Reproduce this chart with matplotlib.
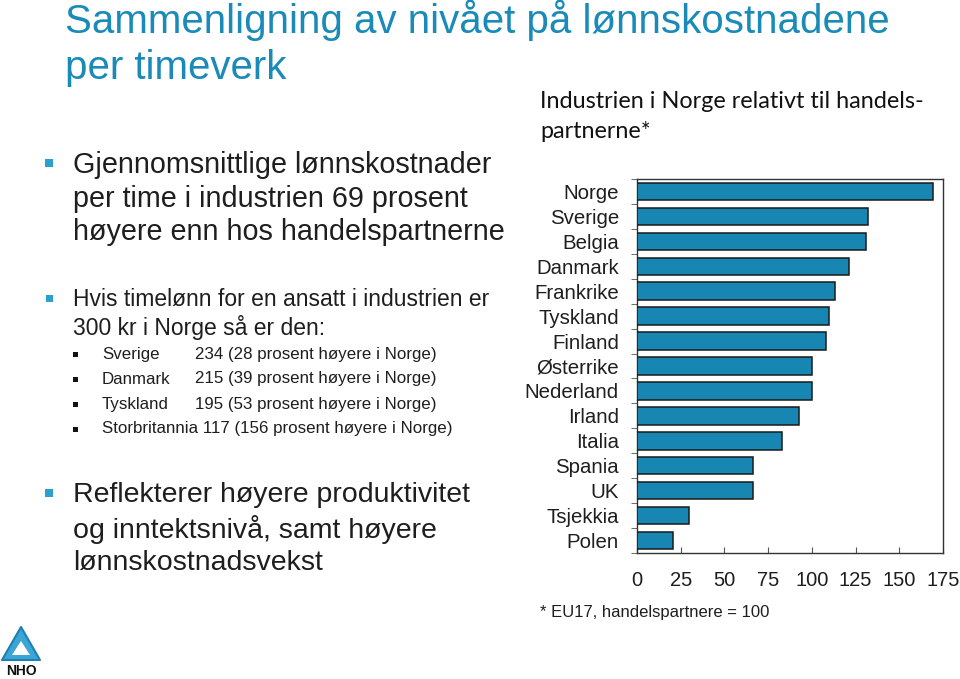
import matplotlib
matplotlib.use("Agg")
import matplotlib.pyplot as plt
from matplotlib.patches import Polygon, Rectangle
from matplotlib.ticker import FixedLocator

# ---- data ----
countries = ["Norge", "Sverige", "Belgia", "Danmark", "Frankrike", "Tyskland",
             "Finland", "Østerrike", "Nederland", "Irland", "Italia", "Spania",
             "UK", "Tsjekkia", "Polen"]
values = [169, 132, 131, 121, 113, 110, 108, 100, 100, 92.5, 83, 66.5, 66.5, 29.5, 20.5]
xticks = [0, 25, 50, 75, 100, 125, 150, 175]

title_lines = ["Sammenligning av nivået på lønnskostnadene", "per timeverk"]
chart_title = ["Industrien i Norge relativt til handels-", "partnerne*"]
footnote = "* EU17, handelspartnere = 100"
bullet1 = ["Gjennomsnittlige lønnskostnader", "per time i industrien 69 prosent",
           "høyere enn hos handelspartnerne"]
bullet2 = ["Hvis timelønn for en ansatt i industrien er", "300 kr i Norge så er den:"]
sub_names = ["Sverige", "Danmark", "Tyskland", "Storbritannia 117 (156 prosent høyere i Norge)"]
sub_vals = ["234 (28 prosent høyere i Norge)", "215 (39 prosent høyere i Norge)",
            "195 (53 prosent høyere i Norge)", ""]
bullet3 = ["Reflekterer høyere produktivitet", "og inntektsnivå, samt høyere",
           "lønnskostnadsvekst"]

W, H = 960, 679
TEAL = "#1a8bb8"
BAR = "#1786b3"
TXT = "#1e1e1e"
FONT = "Liberation Sans"

plt.rcParams['font.family'] = [FONT, 'DejaVu Sans']

fig = plt.figure(figsize=(W / 100, H / 100), dpi=100)


def fx(x):
    return x / W


def fy(y):
    return 1 - y / H


# ---- chart ----
ax = fig.add_axes([fx(637), fy(553), fx(943) - fx(637), fy(179) - fy(553)])
ypos = list(range(len(countries)))
ax.barh(ypos, values, height=0.7, color=BAR, edgecolor="#1a1a1a", linewidth=1.1, zorder=3)
ax.set_ylim(len(countries) - 0.5, -0.5)
ax.set_xlim(0, 175)
ax.set_yticks(ypos)
ax.set_yticklabels(countries, fontsize=14.7, color=TXT)
ax.yaxis.set_minor_locator(FixedLocator([i - 0.5 for i in range(len(countries) + 1)]))
ax.tick_params(axis='y', which='major', length=0, pad=13)
ax.tick_params(axis='y', which='minor', length=4, direction='out', color='#555555')
ax.set_xticks(xticks)
ax.set_xticklabels([str(t) for t in xticks], fontsize=14.5, color=TXT)
ax.tick_params(axis='x', which='major', length=4, direction='in', pad=13, color='#555555')
for s in ax.spines.values():
    s.set_color('#333333')
    s.set_linewidth(1.0)

# ---- texts ----
fig.text(fx(65), fy(20), title_lines[0], fontsize=29, color=TEAL, va='center', ha='left')
fig.text(fx(65), fy(68), title_lines[1], fontsize=29, color=TEAL, va='center', ha='left')

fig.text(fx(540), fy(102), chart_title[0], fontsize=16.8, family=['Lato', 'DejaVu Sans'],
         color='#111111', va='center', ha='left')
fig.text(fx(540), fy(131), chart_title[1], fontsize=16.8, family=['Lato', 'DejaVu Sans'],
         color='#111111', va='center', ha='left')

fig.text(fx(540), fy(612), footnote, fontsize=12, color=TXT, va='center', ha='left')


def bullet(xc, yc, size, color):
    fig.patches.append(Rectangle((fx(xc - size / 2), fy(yc + size / 2)), size / W, size / H,
                                 transform=fig.transFigure, facecolor=color, edgecolor='none'))


# bullet 1
bullet(49, 163, 8, "#2a9fd0")
for i, line in enumerate(bullet1):
    fig.text(fx(73), fy(165 + i * 33.5), line, fontsize=20.7, color=TXT, va='center', ha='left')

# bullet 2
bullet(49, 298, 7, "#2a9fd0")
for i, line in enumerate(bullet2):
    fig.text(fx(73), fy(300 + i * 27), line, fontsize=16.5, color=TXT, va='center', ha='left')

for i, (n, v) in enumerate(zip(sub_names, sub_vals)):
    yy = 354 + i * 25
    bullet(75, yy, 5, "#111111")
    fig.text(fx(102), fy(yy), n, fontsize=12.2, color=TXT, va='center', ha='left')
    if v:
        fig.text(fx(195), fy(yy), v, fontsize=12.2, color=TXT, va='center', ha='left')

# bullet 3
bullet(49, 493, 8, "#2a9fd0")
for i, line in enumerate(bullet3):
    fig.text(fx(73), fy(495 + i * 34), line, fontsize=20.5, color=TXT, va='center', ha='left')

# ---- logo ----
outer = [(21, 627), (40, 660), (2, 660)]
inner = [(21, 641), (30, 655), (12, 655)]
fig.patches.append(Polygon([(fx(x), fy(y)) for x, y in outer], closed=True,
                           transform=fig.transFigure, facecolor="#3aa6d6",
                           edgecolor="#1e7fb0", linewidth=1.5, joinstyle='round'))
fig.patches.append(Polygon([(fx(x), fy(y)) for x, y in inner], closed=True,
                           transform=fig.transFigure, facecolor="#ffffff", edgecolor='none'))
fig.text(fx(21), fy(671), "NHO", fontsize=10, fontweight='bold', color='#111111',
         ha='center', va='center')

fig.savefig("out.png", dpi=100)
